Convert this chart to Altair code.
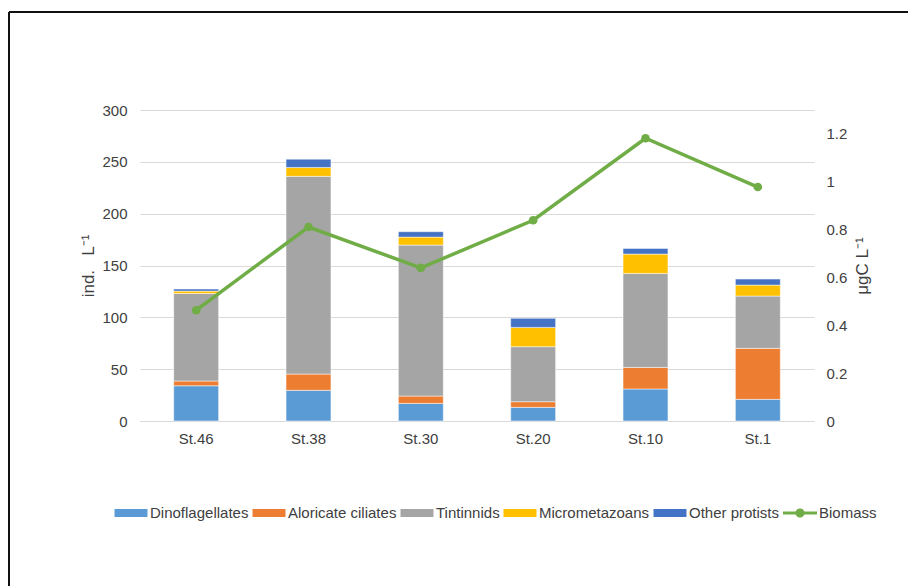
import altair as alt
import pandas as pd

stations = ["St.46", "St.38", "St.30", "St.20", "St.10", "St.1"]
groups = ["Dinoflagellates", "Aloricate ciliates", "Tintinnids", "Micrometazoans", "Other protists"]
dinoflagellates = [34.0, 29.6, 17.0, 13.2, 30.9, 20.9]
aloricate = [4.6, 15.7, 7.1, 5.4, 20.8, 49.2]
tintinnids = [84.4, 190.7, 145.6, 53.1, 90.7, 50.4]
micrometazoans = [2.3, 8.6, 7.7, 18.6, 18.6, 10.6]
other_protists = [2.0, 8.0, 5.2, 8.7, 5.5, 5.8]
biomass = [0.463, 0.811, 0.640, 0.839, 1.182, 0.978]

series_names = groups + ["Biomass"]
colors = ["#5B9BD5", "#ED7D31", "#A5A5A5", "#FFC000", "#4472C4", "#70AD47"]

rect_path = "M-0.97,-0.24L0.97,-0.24L0.97,0.24L-0.97,0.24Z"
line_path = ("M-1,-0.09L1,-0.09L1,0.09L-1,0.09Z "
             "M0.27,0A0.27,0.27 0 1,1 -0.27,0A0.27,0.27 0 1,1 0.27,0Z")
shapes = [rect_path] * 5 + [line_path]

rows = []
for g, vals in zip(groups, [dinoflagellates, aloricate, tintinnids, micrometazoans, other_protists]):
    for s, v in zip(stations, vals):
        rows.append({"station": s, "series": g, "value": v, "idx": groups.index(g)})
bars_df = pd.DataFrame(rows)
line_df = pd.DataFrame({"station": stations, "biomass": biomass, "series": "Biomass"})

FONT = "Liberation Sans"
TXT = "#404040"
GRID = "#d9d9d9"

legend = alt.Legend(
    title=None, orient="none", legendX=-26, legendY=386, direction="horizontal",
    columns=6, labelFontSize=15, labelFont=FONT, labelColor=TXT, labelOffset=2,
    columnPadding=3, symbolSize=1156, symbolStrokeWidth=0, symbolOpacity=1,
)
color_scale = alt.Scale(domain=series_names, range=colors)
x_enc = alt.X(
    "station:N", sort=stations, title=None,
    scale=alt.Scale(paddingInner=0.6, paddingOuter=0.3),
    axis=alt.Axis(labelAngle=0, labelFontSize=15, labelFont=FONT, labelColor=TXT,
                  labelPadding=10, ticks=False, domainColor=GRID, domainWidth=1),
)

right_axis = alt.Axis(orient="right", values=[0, 0.2, 0.4, 0.6, 0.8, 1.0, 1.2], format="~g",
                      title="\u03bcgC L\u207b\u00b9", titleAngle=270, titleFontSize=17,
                      titleFont=FONT, titleColor=TXT, titleFontWeight="normal", titlePadding=25,
                      labelFontSize=15, labelFont=FONT, labelColor=TXT, labelPadding=12,
                      ticks=False, domain=False, grid=False)
right_scale = alt.Scale(domain=[0, 1.3], nice=False)

bars = alt.Chart(bars_df).mark_bar(stroke="white", strokeWidth=0.5).encode(
    x=x_enc,
    y=alt.Y("value:Q", stack="zero",
            scale=alt.Scale(domain=[0, 300], nice=False),
            axis=alt.Axis(values=[0, 50, 100, 150, 200, 250, 300], title="ind.\u00a0\u00a0\u00a0L\u207b\u00b9",
                          titleFontSize=17, titleFont=FONT, titleColor=TXT, titleFontWeight="normal",
                          titlePadding=4, labelFontSize=15, labelFont=FONT, labelColor=TXT,
                          labelPadding=13, ticks=False, domain=False, grid=True, gridColor=GRID)),
    color=alt.Color("series:N", scale=color_scale, legend=legend),
    order=alt.Order("idx:Q", sort="ascending"),
)

line = alt.Chart(line_df).mark_line(strokeWidth=3.5, color="#70AD47").encode(
    x=alt.X("station:N", sort=stations),
    y=alt.Y("biomass:Q", scale=right_scale, axis=right_axis),
    color=alt.Color("series:N", scale=color_scale, legend=legend),
)
dots = alt.Chart(line_df).mark_circle(size=75, opacity=1, color="#70AD47").encode(
    x=alt.X("station:N", sort=stations),
    y=alt.Y("biomass:Q", scale=right_scale, axis=right_axis),
)
legend_layer = alt.Chart(line_df).mark_point(filled=True, opacity=1).encode(
    x=alt.X("station:N", sort=stations),
    y=alt.Y("biomass:Q", scale=right_scale, axis=right_axis),
    color=alt.Color("series:N", scale=color_scale, legend=legend),
    shape=alt.Shape("series:N", scale=alt.Scale(domain=series_names, range=shapes), legend=legend),
).transform_filter("datum.biomass > 100")

frame_df = pd.DataFrame({"k": [0]})
top_rule = alt.Chart(frame_df).mark_rule(color="#111111", strokeWidth=2).encode(
    x=alt.value(-131), x2=alt.value(800), y=alt.value(-98))
left_rule = alt.Chart(frame_df).mark_rule(color="#111111", strokeWidth=2).encode(
    x=alt.value(-131), y=alt.value(-98), y2=alt.value(500))

right_part = alt.layer(line, dots, legend_layer)
chart = alt.layer(bars, right_part, top_rule, left_rule).resolve_scale(
    y="independent"
).properties(
    width=674, height=311, autosize="none",
    padding={"left": 140, "top": 110, "right": 94, "bottom": 165},
    background="white",
).configure_view(stroke=None)

chart.save("out.html", embed_options={"renderer": "svg", "actions": False})
